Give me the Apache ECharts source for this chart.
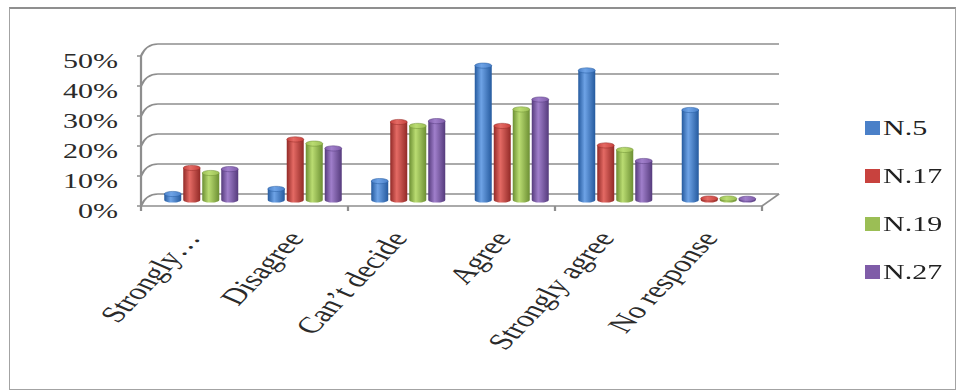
<!DOCTYPE html>
<html>
<head>
<meta charset="utf-8">
<script src="https://cdn.jsdelivr.net/npm/echarts@6/dist/echarts.min.js"></script>
<style>
  html, body { margin: 0; padding: 0; background: #fff; width: 958px; height: 390px; overflow: hidden; }
  #wrap { position: absolute; left: 0; top: 0; width: 638.667px; height: 390px; transform: scaleX(1.5); transform-origin: 0 0; }
  #chart { width: 638.667px; height: 390px; }
  #frame { position: absolute; left: 9px; top: 7px; width: 945px; height: 380px; border: 1px solid #a3a3a3; border-top: 2px solid #8f8f8f; pointer-events: none; }
</style>
</head>
<body>
<div id="wrap"><div id="chart"></div></div>
<div id="frame"></div>
<script>
// ---- data ----
const categories = ['Strongly…', 'Disagree', 'Can’t decide', 'Agree', 'Strongly agree', 'No response'];
const seriesNames = ['N.5', 'N.17', 'N.19', 'N.27'];
const n5  = [2, 3.7, 6.3, 44.8, 43.2, 30];
const n17 = [10.7, 20.2, 26, 24.7, 18.2, 0.5];
const n19 = [9, 18.8, 24.7, 30.2, 16.7, 0.5];
const n27 = [10.3, 17.2, 26.3, 33.5, 13, 0.4];
const yTicks = [0, 10, 20, 30, 40, 50];

// ---- styling ----
const S = 1.5;                 // the reference picture is stretched horizontally
const nx = v => v / S;         // visual px -> native px
const W = 958 / S;
const FONT = "'Liberation Serif', 'Times New Roman', serif";
const GRID_COLOR = '#8e8e8e';
const palette = [
  { main: '#4a80c8', dark: '#255a9e', light: '#6ea3e6' },
  { main: '#c8423e', dark: '#922a27', light: '#e46a64' },
  { main: '#9bbe55', dark: '#6c8f33', light: '#badc72' },
  { main: '#7f5ca8', dark: '#553b7c', light: '#a07fcb' }
];
const BAR_W = 17 / 103.5;      // bar width as fraction of category band
const BAR_STEP = 19 / 103.5;   // spacing of bars inside a group
const DEPTH_X = nx(17), DEPTH_Y = 12;

function ellipsePts(cx, cy, rx, ry, a0, a1, n) {
  const pts = [];
  for (let k = 0; k <= n; k++) {
    const t = a0 + (a1 - a0) * k / n;
    pts.push([cx + rx * Math.cos(t), cy + ry * Math.sin(t)]);
  }
  return pts;
}

function cylinder(si) {
  const c = palette[si];
  return function (params, api) {
    const cat = api.value(0), val = api.value(1);
    const top = api.coord([cat, val]);
    const base = api.coord([cat, 0]);
    const band = api.size([1, 0])[0];
    const bw = band * BAR_W, step = band * BAR_STEP;
    const cx = top[0] + (si - 1.5) * step;
    const rx = bw / 2, ry = 2.6;
    const bodyPts = [[cx - rx, top[1]], [cx - rx, base[1]]]
      .concat(ellipsePts(cx, base[1], rx, ry, Math.PI, 0, 16))
      .concat([[cx + rx, top[1]]]);
    const grad = new echarts.graphic.LinearGradient(0, 0, 1, 0, [
      { offset: 0, color: c.dark }, { offset: 0.38, color: c.light }, { offset: 1, color: c.dark }
    ]);
    const capGrad = new echarts.graphic.LinearGradient(0, 0, 1, 0, [
      { offset: 0, color: c.main }, { offset: 0.4, color: c.light }, { offset: 1, color: c.main }
    ]);
    return {
      type: 'group',
      children: [
        { type: 'polygon', shape: { points: bodyPts }, style: { fill: grad } },
        { type: 'polygon', shape: { points: ellipsePts(cx, top[1], rx, ry, 0, Math.PI * 2, 24) }, style: { fill: capGrad, stroke: c.dark, lineWidth: 0.4 } }
      ]
    };
  };
}

function connectors(params, api) {
  const v = api.value(1);
  const p = api.coord([0, v]);
  const band = api.size([1, 0])[0];
  const left = p[0] - band / 2;
  const children = [{
    type: 'bezierCurve',
    shape: { x1: left, y1: p[1], cpx1: left + DEPTH_X * 0.3, cpy1: p[1] - DEPTH_Y, x2: left + DEPTH_X, y2: p[1] - DEPTH_Y },
    style: { stroke: GRID_COLOR, lineWidth: 1.5, fill: null }
  }];
  if (v === 0) {
    const right = left + band * categories.length;
    children.push({
      type: 'line',
      shape: { x1: right, y1: p[1], x2: right + DEPTH_X, y2: p[1] - DEPTH_Y },
      style: { stroke: GRID_COLOR, lineWidth: 1.5 }
    });
  }
  return { type: 'group', children };
}

const pairs = arr => arr.map((v, i) => [i, v]);
const seriesData = [n5, n17, n19, n27];

const gridW = nx(621);
const option = {
  animation: false,
  backgroundColor: '#fff',
  color: palette.map(p => p.main).concat(['#888']),
  legend: {
    data: seriesNames,
    orient: 'vertical',
    left: nx(865),
    top: 118,
    padding: 0,
    icon: 'rect',
    itemWidth: nx(15),
    itemHeight: 14,
    itemGap: 28,
    textStyle: { fontFamily: FONT, fontSize: 20, color: '#222', lineHeight: 20, padding: [0, 0, 0, -3] }
  },
  grid: [
    { left: nx(141), width: gridW, top: 56, height: 150 },   // front plane
    { left: nx(158), width: gridW, top: 44, height: 150 },   // back wall
    { left: nx(149.5), width: gridW, top: 50, height: 150 }, // mid depth (bars)
    { left: nx(140), width: gridW, top: 56, height: 150 }    // category labels
  ],
  xAxis: [
    { type: 'category', gridIndex: 0, data: categories,
      axisLine: { show: true, lineStyle: { color: GRID_COLOR, width: 1.5 } },
      axisTick: { show: true, length: 5, lineStyle: { color: GRID_COLOR, width: 1.5 } },
      axisLabel: { show: false } },
    { type: 'category', gridIndex: 1, data: categories, show: false },
    { type: 'category', gridIndex: 2, data: categories, show: false },
    { type: 'category', gridIndex: 3, data: categories,
      axisLine: { show: false }, axisTick: { show: false },
      axisLabel: { interval: 0, rotate: 57, margin: 28, fontFamily: FONT, fontSize: 23, color: '#2a2a2a', hideOverlap: false } }
  ],
  yAxis: [
    { type: 'value', gridIndex: 0, min: 0, max: 50, interval: 10,
      axisLine: { show: true, lineStyle: { color: GRID_COLOR, width: 1.5 } },
      axisTick: { show: true, length: nx(4), lineStyle: { color: GRID_COLOR, width: 1.5 } },
      splitLine: { show: false },
      axisLabel: { formatter: '{value}%', margin: nx(23), fontFamily: FONT, fontSize: 20, color: '#2a2a2a', verticalAlign: 'top', lineHeight: 11 } },
    { type: 'value', gridIndex: 1, min: 0, max: 50, interval: 10,
      axisLine: { show: false }, axisTick: { show: false }, axisLabel: { show: false },
      splitLine: { show: true, lineStyle: { color: GRID_COLOR, width: 1.5 } } },
    { type: 'value', gridIndex: 2, min: 0, max: 50, interval: 10, show: false, splitLine: { show: false } },
    { type: 'value', gridIndex: 3, min: 0, max: 50, interval: 10, show: false, splitLine: { show: false } }
  ],
  series: seriesData.map((arr, si) => ({
    type: 'custom',
    name: seriesNames[si],
    xAxisIndex: 2,
    yAxisIndex: 2,
    itemStyle: { color: palette[si].main },
    encode: { x: 0, y: 1 },
    data: pairs(arr),
    renderItem: cylinder(si),
    z: 5
  })).concat([{
    type: 'custom',
    name: 'depth',
    xAxisIndex: 0,
    yAxisIndex: 0,
    encode: { x: 0, y: 1 },
    data: yTicks.map(v => [0, v]),
    renderItem: connectors,
    silent: true,
    z: 1
  }])
};

const chart = echarts.init(document.getElementById('chart'), null, { renderer: 'svg', width: W, height: 390 });
chart.setOption(option);
</script>
</body>
</html>
